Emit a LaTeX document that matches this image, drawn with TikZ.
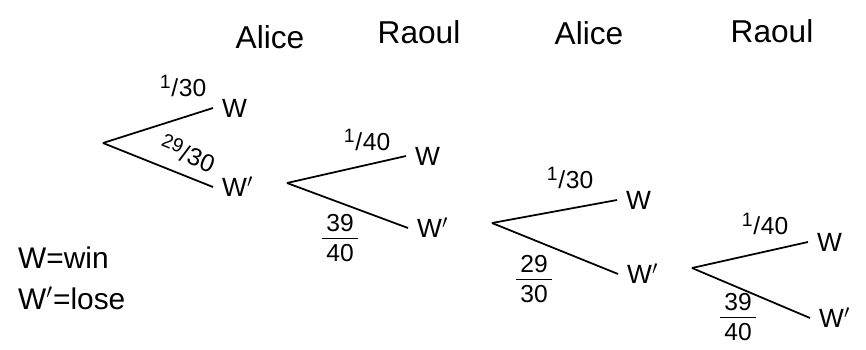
\documentclass[tikz,border=0pt]{standalone}
\usepackage{fontspec}
\setmainfont{Liberation Sans}
\newcommand{\slfrac}[2]{\raisebox{0.55ex}{\fontsize{11}{12}\selectfont#1}\kern0.03em/\kern0.03em#2}
\newcommand{\stfrac}[2]{\begin{tabular}{@{\,}c@{\,}}#1\\[-1pt]\hline\rule{0pt}{13pt}#2\end{tabular}}
\tikzset{
  branch/.style={line width=1pt},
  leaf/.style={anchor=west,inner xsep=5pt,inner ysep=1pt,font=\fontsize{15}{17}\selectfont},
  prob/.style={inner sep=0pt,font=\fontsize{14}{16}\selectfont},
  player/.style={font=\fontsize{18}{20}\selectfont},
  key/.style={anchor=west,font=\fontsize{17}{19}\selectfont}
}
\begin{document}
\begin{tikzpicture}[x=0.02cm,y=-0.02cm]
			\useasboundingbox (0,0) rectangle (866,349);
			%%%%% PLAYERS %%%%%
			\node[player] (p1) at (270,37) {Alice};
			\node[player] (p2) at (419,32) {Raoul};
			\node[player] (p3) at (589,33) {Alice};
			\node[player] (p4) at (772,31) {Raoul};
			
			%%%%% FIRST THROW %%%%%
			\coordinate (r1) at (103,143);
			\node[leaf] (w1) at (213,108) {W};
			\node[leaf] (l1) at (213,187) {W$'$};
			\draw[branch] (r1) -- (w1.west);
			\draw[branch] (r1) -- (l1.west);
			\node[prob] (pw1) at (183,86) {\slfrac{1}{30}};
			\node[prob,rotate=-22] (pl1) at (188,153) {\slfrac{29}{30}};
			
			%%%%% SECOND THROW %%%%%
			\coordinate (r2) at (287,183);
			\node[leaf] (w2) at (406,156) {W};
			\node[leaf] (l2) at (408,228) {W$'$};
			\draw[branch] (r2) -- (w2.west);
			\draw[branch] (r2) -- (l2.west);
			\node[prob] (pw2) at (367,140) {\slfrac{1}{40}};
			\node[prob] (pl2) at (340,241) {\stfrac{39}{40}};
			
			%%%%% THIRD THROW %%%%%
			\coordinate (r3) at (492,223);
			\node[leaf] (w3) at (617,200) {W};
			\node[leaf] (l3) at (618,274) {W$'$};
			\draw[branch] (r3) -- (w3.west);
			\draw[branch] (r3) -- (l3.west);
			\node[prob] (pw3) at (570,178) {\slfrac{1}{30}};
			\node[prob] (pl3) at (534,282) {\stfrac{29}{30}};
			
			%%%%% FOURTH THROW %%%%%
			\coordinate (r4) at (692,268);
			\node[leaf] (w4) at (808,242) {W};
			\node[leaf] (l4) at (810,318) {W$'$};
			\draw[branch] (r4) -- (w4.west);
			\draw[branch] (r4) -- (l4.west);
			\node[prob] (pw4) at (765,224) {\slfrac{1}{40}};
			\node[prob] (pl4) at (738,320) {\stfrac{39}{40}};
			
			%%%%% KEY %%%%%
			\node[key] (k1) at (12,258) {W=win};
			\node[key] (k2) at (12,298) {W$'$=lose};
\end{tikzpicture}
\end{document}
